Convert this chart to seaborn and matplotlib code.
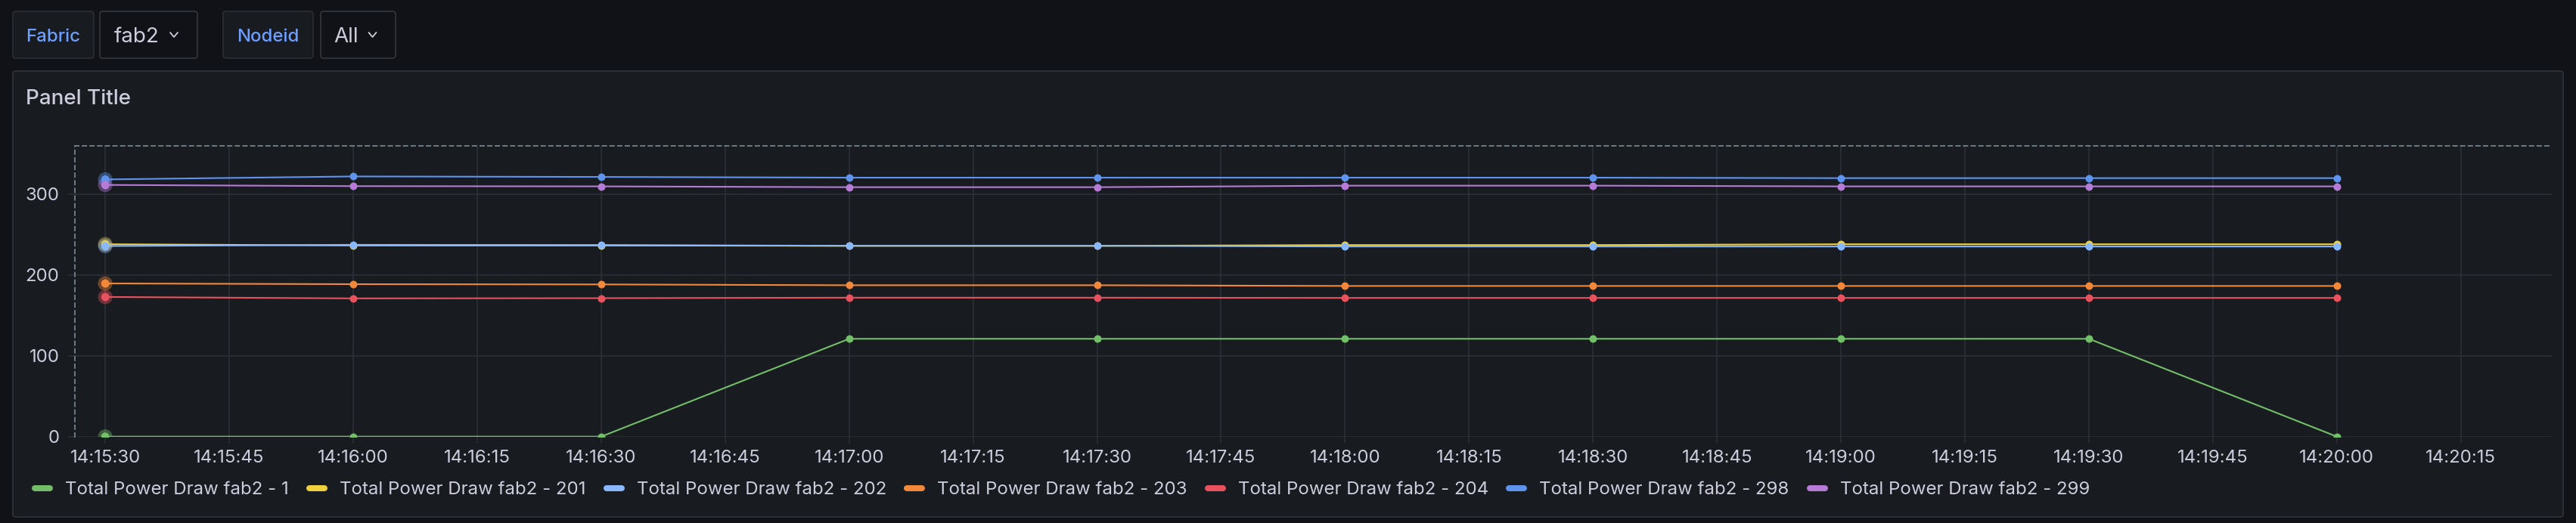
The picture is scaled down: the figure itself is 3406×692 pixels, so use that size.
import numpy as np
import pandas as pd
import matplotlib
matplotlib.use("Agg")
import matplotlib.pyplot as plt
import matplotlib.dates as mdates
import matplotlib.transforms as mtransforms
from matplotlib.patches import FancyBboxPatch
from matplotlib.lines import Line2D
import seaborn as sns

# ---------------- data ----------------
times = ["14:15:30", "14:16:00", "14:16:30", "14:17:00", "14:17:30",
         "14:18:00", "14:18:30", "14:19:00", "14:19:30", "14:20:00"]
series_names = ["Total Power Draw fab2 - 1", "Total Power Draw fab2 - 201",
                "Total Power Draw fab2 - 202", "Total Power Draw fab2 - 203",
                "Total Power Draw fab2 - 204", "Total Power Draw fab2 - 298",
                "Total Power Draw fab2 - 299"]
node_1 = [0, 0, 0, 121, 121, 121, 121, 121, 121, 0]
node_201 = [238, 236.5, 236.5, 236, 236, 237, 237, 238, 238, 238]
node_202 = [235.8, 237.3, 237, 236.1, 236.1, 235.2, 235.2, 235.2, 235.2, 235.2]
node_203 = [189.5, 188.6, 188.3, 187.3, 187.3, 186.4, 186.4, 186.4, 186.4, 186.4]
node_204 = [172.8, 171, 171.3, 171.9, 171.9, 171.6, 171.6, 171.6, 171.6, 171.6]
node_298 = [318.2, 321.9, 321.3, 320.4, 320.4, 320.4, 320.4, 319.8, 319.8, 319.8]
node_299 = [311.4, 309.9, 309.6, 308.6, 308.6, 310.5, 310.5, 309.6, 309.6, 309.6]
series_values = [node_1, node_201, node_202, node_203, node_204, node_298, node_299]
series_colors = ["#73BF69", "#F0D03C", "#8AB8FF", "#F2883A", "#E8525F", "#5E93EE", "#B57BD6"]
y_ticks = [0, 100, 200, 300]

# ---------------- styling constants ----------------
W, H = 3406, 692
PAGE_BG = "#111217"
PANEL_BG = "#181b1f"
BORDER = "#2b2e34"
GRID = "#2c2f35"
TEXT = "#ccccdc"
LABEL_BLUE = "#6E9FFF"
FONT = ["Inter", "DejaVu Sans"]

sns.set_theme(style="dark")
plt.rcParams["font.family"] = FONT

day = "2024-01-01 "
t_index = pd.to_datetime([day + t for t in times])
df = pd.concat([
    pd.DataFrame({"time": t_index, "value": vals, "series": name})
    for name, vals in zip(series_names, series_values)
], ignore_index=True)
palette = dict(zip(series_names, series_colors))

fig = plt.figure(figsize=(W / 100, H / 100), dpi=100, facecolor=PAGE_BG)
ident = mtransforms.IdentityTransform()


def px_rect(x0, y0, x1, y1, fc, ec, r=4, lw=1.2, z=-10):
    p = FancyBboxPatch((x0, H - y1), x1 - x0, y1 - y0,
                       boxstyle=f"round,pad=0,rounding_size={r}",
                       transform=ident, fc=fc, ec=ec, lw=lw, zorder=z)
    fig.patches.append(p)


def px_text(x, y, s, **kw):
    fig.text(x, H - y, s, transform=ident, **kw)


def chevron(xc, yc, w=10, h=6):
    fig.add_artist(Line2D([xc - w / 2, xc, xc + w / 2], [H - yc + h / 2, H - yc - h / 2, H - yc + h / 2],
                          transform=ident, color=TEXT, lw=1.3, solid_capstyle="round"))


# panel
px_rect(17, 94, 3389, 684, PANEL_BG, BORDER, r=4, lw=1.5)

# variable controls
px_rect(17, 15, 124, 77, PANEL_BG, BORDER, r=4)
px_text(70.5, 55, "Fabric", color=LABEL_BLUE, fontsize=17.3, ha="center", va="baseline", fontweight="medium")
px_rect(132, 15, 261, 77, PAGE_BG, "#34373e", r=4)
px_text(151, 56, "fab2", color=TEXT, fontsize=20, ha="left", va="baseline")
chevron(230, 46)
px_rect(295, 15, 414, 77, PANEL_BG, BORDER, r=4)
px_text(354.5, 55, "Nodeid", color=LABEL_BLUE, fontsize=17.3, ha="center", va="baseline", fontweight="medium")
px_rect(424, 15, 523, 77, PAGE_BG, "#34373e", r=4)
px_text(441, 56, "All", color=TEXT, fontsize=20, ha="left", va="baseline")
chevron(492.5, 46)

# panel title
px_text(34.5, 138, "Panel Title", color=TEXT, fontsize=20, ha="left", va="baseline", fontweight="medium")

# ---------------- axes ----------------
ax_l, ax_r, ax_b, ax_t = 98.7, 3374, 577.7, 192.7
ax = fig.add_axes([ax_l / W, 1 - ax_b / H, (ax_r - ax_l) / W, (ax_b - ax_t) / H])
ax.set_zorder(1)
ax.set_facecolor(PANEL_BG)

sns.lineplot(data=df, x="time", y="value", hue="series", palette=palette,
             hue_order=series_names, marker="o", markersize=7.2, markeredgewidth=0,
             linewidth=1.5, legend=False, ax=ax, sort=False, zorder=3)

# hover highlight halos at the first timestamp
first = df[df["time"] == t_index[0]]
ax.scatter(first["time"], first["value"], s=190,
           c=[palette[s] for s in first["series"]], alpha=0.4, linewidths=0, zorder=4)
ax.scatter(first["time"], first["value"], s=60,
           c=[palette[s] for s in first["series"]], linewidths=0, zorder=5)

x0 = pd.Timestamp(day + "14:15:30") - pd.Timedelta(seconds=3.7)
x1 = pd.Timestamp(day + "14:15:30") + pd.Timedelta(seconds=296)
ax.set_xlim(x0, x1)
ax.set_ylim(0, 360)
ax.set_yticks(y_ticks)
ax.xaxis.set_major_locator(mdates.SecondLocator(bysecond=[0, 15, 30, 45]))
ax.xaxis.set_major_formatter(mdates.DateFormatter("%H:%M:%S"))
ax.set_xlabel("")
ax.set_ylabel("")

ax.grid(True, color=GRID, linewidth=1.2)
ax.tick_params(axis="both", length=6.5, width=1.2, color=GRID, labelcolor=TEXT,
               labelsize=17.3, bottom=True, left=True)
ax.tick_params(axis="x", pad=6)
ax.tick_params(axis="y", pad=8)
for lab in ax.get_xticklabels() + ax.get_yticklabels():
    lab.set_fontfamily(FONT)

for side in ["bottom", "right"]:
    ax.spines[side].set_visible(False)
for side in ["top", "left"]:
    ax.spines[side].set_visible(True)
    ax.spines[side].set_color("#6d7b84")
    ax.spines[side].set_linewidth(1.4)
    ax.spines[side].set_linestyle((0, (2.6, 2.6)))

# ---------------- legend ----------------
handles = [Line2D([], [], color=c, lw=5.76, solid_capstyle="round") for c in series_colors]
leg = fig.legend(handles, series_names, loc="center left",
                 bbox_to_anchor=(46 / W, 1 - 648 / H), ncol=7, frameon=False,
                 handlelength=0.833, handletextpad=0.833, columnspacing=1.13,
                 borderpad=0, borderaxespad=0,
                 prop={"family": FONT, "size": 17.3})
for t in leg.get_texts():
    t.set_color(TEXT)

fig.savefig("out.png", dpi=100, facecolor=PAGE_BG)
